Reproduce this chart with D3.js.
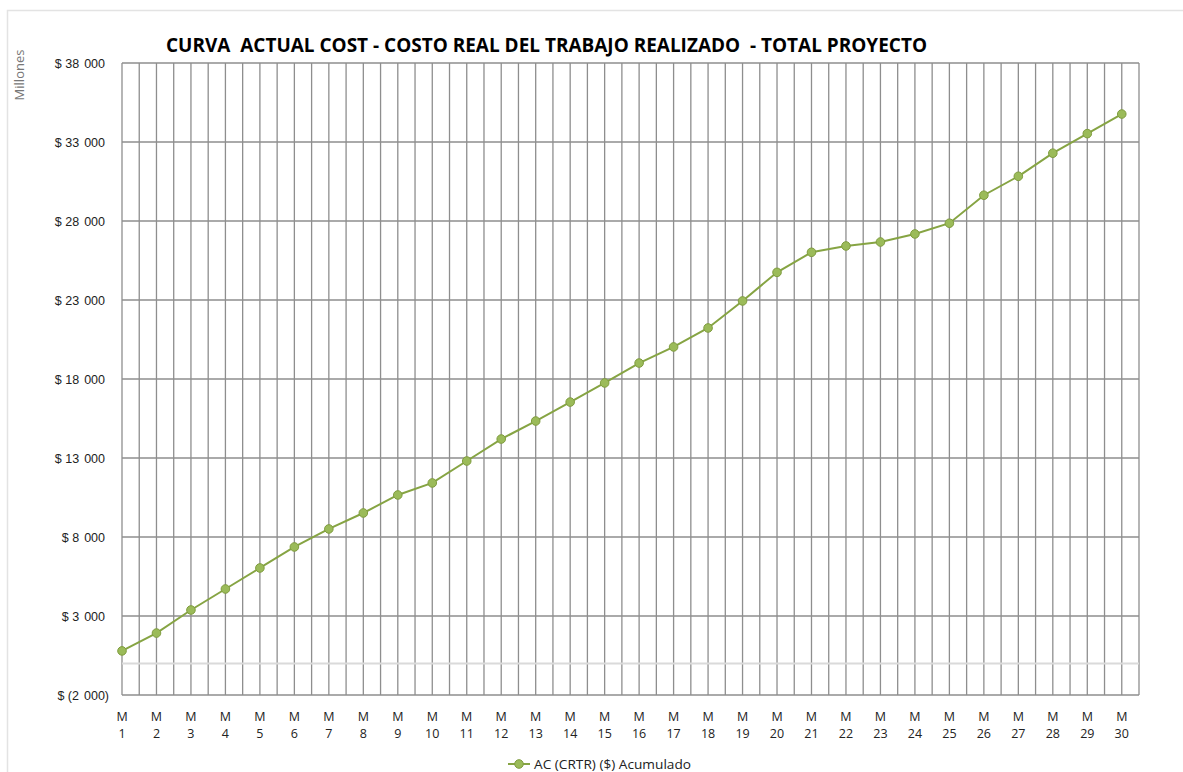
<!DOCTYPE html>
<html>
<head>
<meta charset="utf-8">
<script src="https://cdn.jsdelivr.net/npm/d3@7"></script>
<style>
  body { margin: 0; background: #fff; }
  svg { display: block; font-family: "Open Sans", "Noto Sans", sans-serif; }
</style>
</head>
<body>
<svg id="chart" width="1183" height="772"></svg>
<script>
// Months and cumulative actual cost (millones)
const months = d3.range(1, 31);
const acumulado = [
  790, 1920, 3380, 4710, 6040, 7370, 8510, 9520, 10660, 11420,
  12810, 14200, 15340, 16540, 17750, 19010, 20030, 21230, 22940, 24750,
  26020, 26420, 26670, 27180, 27860, 29630, 30830, 32290, 33530, 34770
];
const yTicks = [-2000, 3000, 8000, 13000, 18000, 23000, 28000, 33000, 38000];

const title = 'CURVA  ACTUAL COST - COSTO REAL DEL TRABAJO REALIZADO  - TOTAL PROYECTO';
const seriesName = 'AC (CRTR) ($) Acumulado';

const svg = d3.select('#chart');
const margin = {top: 63, right: 44, bottom: 77, left: 122};
const width = 1183, height = 772;
const plotW = width - margin.left - margin.right;
const plotH = height - margin.top - margin.bottom;

const lineColor = '#86a443';
const markerFill = '#9bbb59';
const markerStroke = '#7f9c3e';
const gridColor = '#8e8e8e';

// chart area border
svg.append('rect')
  .attr('x', 7.5).attr('y', 10.5)
  .attr('width', 1200).attr('height', 800)
  .attr('fill', 'none')
  .attr('stroke', '#e3e3e3')
  .attr('stroke-width', 1.5);

const x = d3.scaleLinear().domain([1, 30.5]).range([0, plotW]);
const y = d3.scaleLinear().domain([-2000, 38000]).range([plotH, 0]);

const g = svg.append('g').attr('transform', `translate(${margin.left},${margin.top})`);

// vertical gridlines every half month
g.append('g')
  .selectAll('line')
  .data(d3.range(1, 30.51, 0.5))
  .enter().append('line')
  .attr('x1', d => x(d)).attr('x2', d => x(d))
  .attr('y1', 0).attr('y2', plotH)
  .attr('stroke', gridColor)
  .attr('stroke-width', 1.3);

// horizontal gridlines
g.append('g')
  .selectAll('line')
  .data(yTicks)
  .enter().append('line')
  .attr('x1', 0).attr('x2', plotW)
  .attr('y1', d => y(d)).attr('y2', d => y(d))
  .attr('stroke', gridColor)
  .attr('stroke-width', 1.3);

// zero line (light)
g.append('line')
  .attr('x1', 0).attr('x2', plotW)
  .attr('y1', y(0)).attr('y2', y(0))
  .attr('stroke', '#dadada')
  .attr('stroke-width', 2);

// y axis labels
const yAxis = d3.axisLeft(y)
  .tickValues(yTicks)
  .tickSize(0)
  .tickPadding(17)
  .tickFormat(d => {
    const s = d3.format(',')(Math.abs(d)).replace(/,/g, '\u2009\u2009');
    return d < 0 ? `$ (${s})` : `$ ${s}`;
  });

const ya = g.append('g').call(yAxis);
ya.select('.domain').remove();
ya.selectAll('text')
  .style('font-size', '12.5px')
  .style('fill', '#222')
  .attr('dx', d => d < 0 ? 4 : 0);

// x axis labels (two lines)
const xa = g.append('g').attr('transform', `translate(0,${plotH})`);
const xl = xa.selectAll('text')
  .data(months)
  .enter().append('text')
  .attr('x', d => x(d))
  .attr('y', 26)
  .attr('text-anchor', 'middle')
  .style('font-size', '12.5px')
  .style('fill', '#222');
xl.append('tspan').attr('x', d => x(d)).text('M');
xl.append('tspan').attr('x', d => x(d)).attr('dy', 16.5).text(d => d);

// series line
const line = d3.line().x((d, i) => x(months[i])).y(d => y(d));
g.append('path')
  .datum(acumulado)
  .attr('d', line)
  .attr('fill', 'none')
  .attr('stroke', lineColor)
  .attr('stroke-width', 2);

g.append('g')
  .selectAll('circle')
  .data(acumulado)
  .enter().append('circle')
  .attr('cx', (d, i) => x(months[i]))
  .attr('cy', d => y(d))
  .attr('r', 4.3)
  .attr('fill', markerFill)
  .attr('stroke', markerStroke)
  .attr('stroke-width', 1);

// title
svg.append('text')
  .attr('x', 166)
  .attr('y', 52)
  .attr('textLength', 761)
  .attr('lengthAdjust', 'spacingAndGlyphs')
  .style('font-size', '19px')
  .style('font-weight', 'bold')
  .style('fill', '#000')
  .style('white-space', 'pre')
  .text(title);

// y unit label
svg.append('text')
  .attr('transform', 'translate(24,75) rotate(-90)')
  .attr('text-anchor', 'middle')
  .style('font-size', '13px')
  .style('fill', '#777')
  .text('Millones');

// legend
const lg = svg.append('g').attr('transform', 'translate(508,764)');
lg.append('line').attr('x1', 0).attr('x2', 22).attr('y1', 0).attr('y2', 0)
  .attr('stroke', lineColor).attr('stroke-width', 2);
lg.append('circle').attr('cx', 11).attr('cy', 0).attr('r', 4.3)
  .attr('fill', markerFill).attr('stroke', markerStroke);
lg.append('text').attr('x', 26).attr('y', 4.5)
  .attr('textLength', 157)
  .attr('lengthAdjust', 'spacingAndGlyphs')
  .style('font-size', '12.5px').style('fill', '#222')
  .text(seriesName);
</script>
</body>
</html>
